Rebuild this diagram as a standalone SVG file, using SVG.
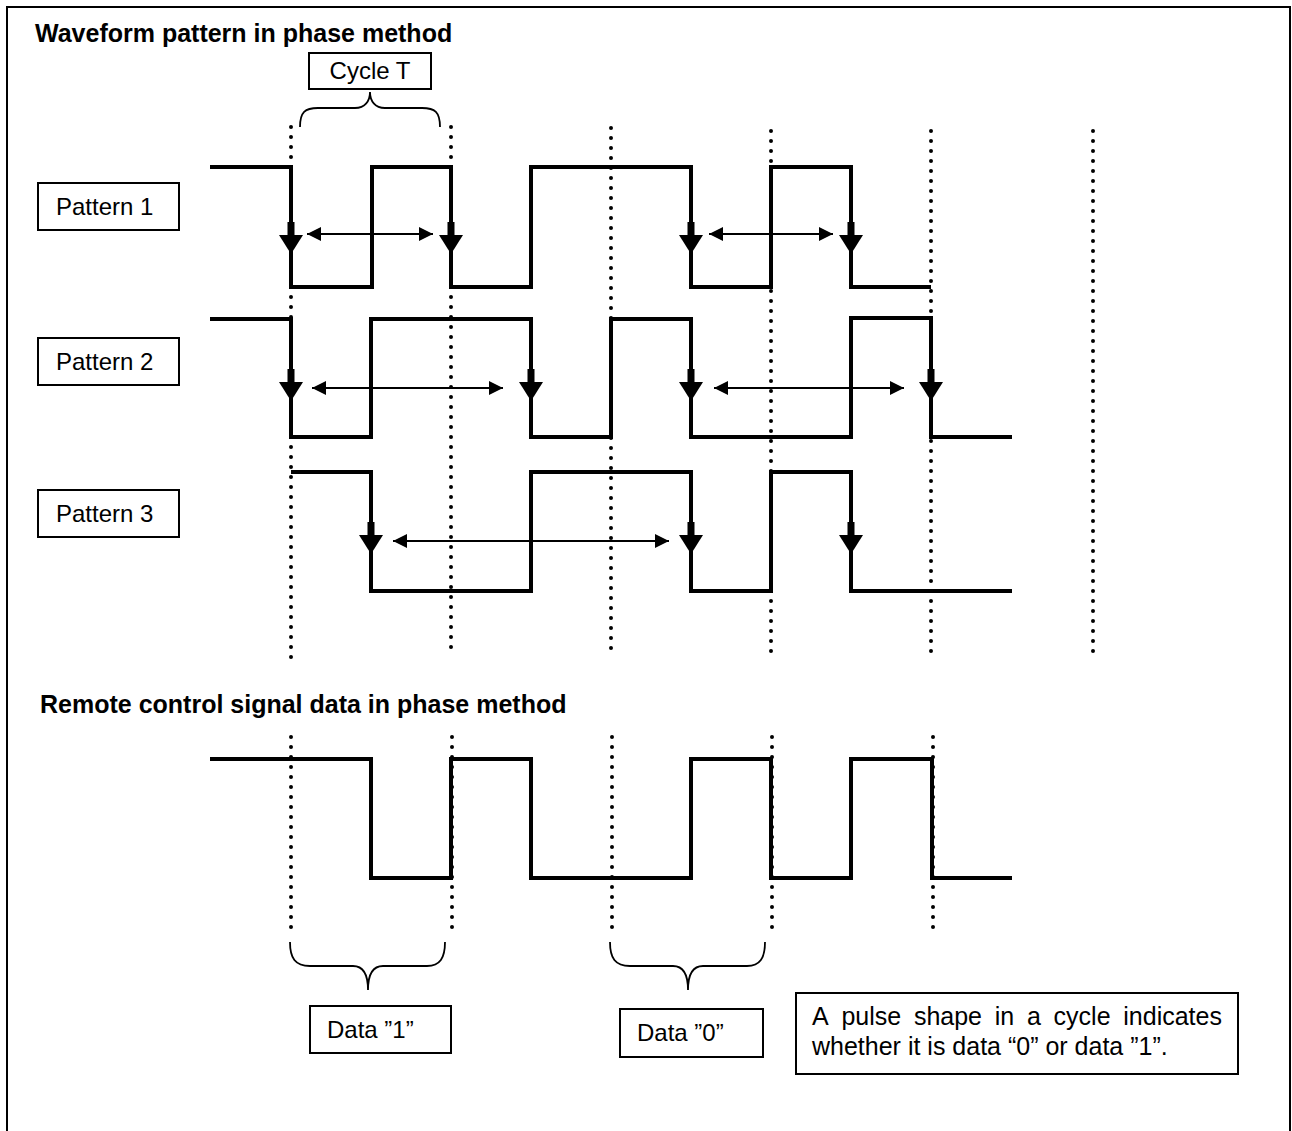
<svg xmlns="http://www.w3.org/2000/svg" width="1292" height="1131" viewBox="0 0 1292 1131">
<style>
.t{font-family:"Liberation Sans",Arial,sans-serif;font-size:24px;fill:#000}
.tn{font-family:"Liberation Sans",Arial,sans-serif;font-size:25px;fill:#000}
.tb{font-family:"Liberation Sans",Arial,sans-serif;font-size:25px;font-weight:bold;fill:#000}
.box{fill:#fff;stroke:#000;stroke-width:2}
.wave{fill:none;stroke:#000;stroke-width:4;stroke-linejoin:miter;stroke-linecap:butt}
.dot{fill:none;stroke:#000;stroke-width:4;stroke-linecap:round;stroke-dasharray:0 10}
.brace{fill:none;stroke:#000;stroke-width:1.8}
.harr{fill:none;stroke:#000;stroke-width:2}
</style>
<defs>
<marker id="ah" markerWidth="8" markerHeight="8" refX="7" refY="4" orient="auto-start-reverse" markerUnits="strokeWidth">
<path d="M0,0.5 L7,4 L0,7.5 Z" fill="#000"/>
</marker>
<g id="dn">
<rect x="-3.5" y="-13" width="7" height="14" fill="#000"/>
<path d="M-12,0 L12,0 L0,19 Z" fill="#000"/>
</g>
</defs>
<rect x="0" y="0" width="1292" height="1131" fill="#fff"/>
<rect x="7" y="7" width="1283" height="1140" fill="none" stroke="#000" stroke-width="2"/>

<g id="title1"><text class="tb" x="35" y="42">Waveform pattern in phase method</text></g>
<g id="title2"><text class="tb" x="40" y="713">Remote control signal data in phase method</text></g>

<g id="grid">
<line class="dot" x1="291" y1="127" x2="291" y2="658"/>
<line class="dot" x1="451" y1="127" x2="451" y2="657"/>
<line class="dot" x1="611" y1="128" x2="611" y2="650"/>
<line class="dot" x1="771" y1="131" x2="771" y2="653"/>
<line class="dot" x1="931" y1="131" x2="931" y2="653"/>
<line class="dot" x1="1093" y1="131" x2="1093" y2="653"/>
<line class="dot" x1="291" y1="737" x2="291" y2="928"/>
<line class="dot" x1="452" y1="737" x2="452" y2="928"/>
<line class="dot" x1="612" y1="737" x2="612" y2="928"/>
<line class="dot" x1="772" y1="737" x2="772" y2="928"/>
<line class="dot" x1="933" y1="737" x2="933" y2="928"/>
</g>

<g id="cycleT">
<rect class="box" x="309" y="53" width="122" height="36"/>
<text class="t" x="370" y="79" text-anchor="middle">Cycle T</text>
<path class="brace" d="M300,127 C300,112 305,108 318,108 L355,108 C365,108 370,101 370,92 C370,101 375,108 385,108 L422,108 C435,108 440,112 440,127"/>
</g>

<g id="pattern1">
<rect class="box" x="38" y="183" width="141" height="47"/>
<text class="t" x="56" y="215">Pattern 1</text>
<path class="wave" d="M210,167 H291 V287 H372 V167 H451 V287 H531 V167 H691 V287 H771 V167 H851 V287 H931"/>
<use href="#dn" x="291" y="235"/>
<use href="#dn" x="451" y="235"/>
<use href="#dn" x="691" y="235"/>
<use href="#dn" x="851" y="235"/>
</g>

<g id="pattern2">
<rect class="box" x="38" y="338" width="141" height="47"/>
<text class="t" x="56" y="370">Pattern 2</text>
<path class="wave" d="M210,319 H291 V437 H371 V319 H531 V437 H611 V319 H691 V437 H851 V318 H931 V437 H1012"/>
<use href="#dn" x="291" y="382"/>
<use href="#dn" x="531" y="382"/>
<use href="#dn" x="691" y="382"/>
<use href="#dn" x="931" y="382"/>
</g>

<g id="pattern3">
<rect class="box" x="38" y="490" width="141" height="47"/>
<text class="t" x="56" y="522">Pattern 3</text>
<path class="wave" d="M291,472 H371 V591 H531 V472 H691 V591 H771 V472 H851 V591 H1012"/>
<use href="#dn" x="371" y="535"/>
<use href="#dn" x="691" y="535"/>
<use href="#dn" x="851" y="535"/>
</g>

<g id="connectors">
<line class="harr" x1="307" y1="234" x2="433" y2="234" marker-start="url(#ah)" marker-end="url(#ah)"/>
<line class="harr" x1="709" y1="234" x2="833" y2="234" marker-start="url(#ah)" marker-end="url(#ah)"/>
<line class="harr" x1="312" y1="388" x2="503" y2="388" marker-start="url(#ah)" marker-end="url(#ah)"/>
<line class="harr" x1="714" y1="388" x2="904" y2="388" marker-start="url(#ah)" marker-end="url(#ah)"/>
<line class="harr" x1="393" y1="541" x2="669" y2="541" marker-start="url(#ah)" marker-end="url(#ah)"/>
</g>

<g id="signal">
<path class="wave" d="M210,759 H371 V878 H451 V759 H531 V878 H691 V759 H771 V878 H851 V759 H932 V878 H1012"/>
</g>

<g id="data1">
<path class="brace" d="M290,942 C290,958 295,966 310,966 L353,966 C363,966 368,975 368,990 C368,975 373,966 383,966 L427,966 C440,966 445,958 445,942"/>
<rect class="box" x="310" y="1006" width="141" height="47"/>
<text class="t" x="327" y="1038">Data ”1”</text>
</g>

<g id="data0">
<path class="brace" d="M610,942 C610,958 615,966 630,966 L673,966 C683,966 688,975 688,990 C688,975 693,966 703,966 L747,966 C760,966 765,958 765,942"/>
<rect class="box" x="620" y="1009" width="143" height="48"/>
<text class="t" x="637" y="1041">Data ”0”</text>
</g>

<g id="note">
<rect class="box" x="796" y="993" width="442" height="81"/>
<text class="tn" y="1025"><tspan x="812">A</tspan><tspan x="841.4">pulse</tspan><tspan x="913.9">shape</tspan><tspan x="994.8">in</tspan><tspan x="1027">a</tspan><tspan x="1053.6">cycle</tspan><tspan x="1123.3">indicates</tspan></text>
<text class="tn" x="812" y="1055">whether it is data “0” or data ”1”.</text>
</g>
</svg>
